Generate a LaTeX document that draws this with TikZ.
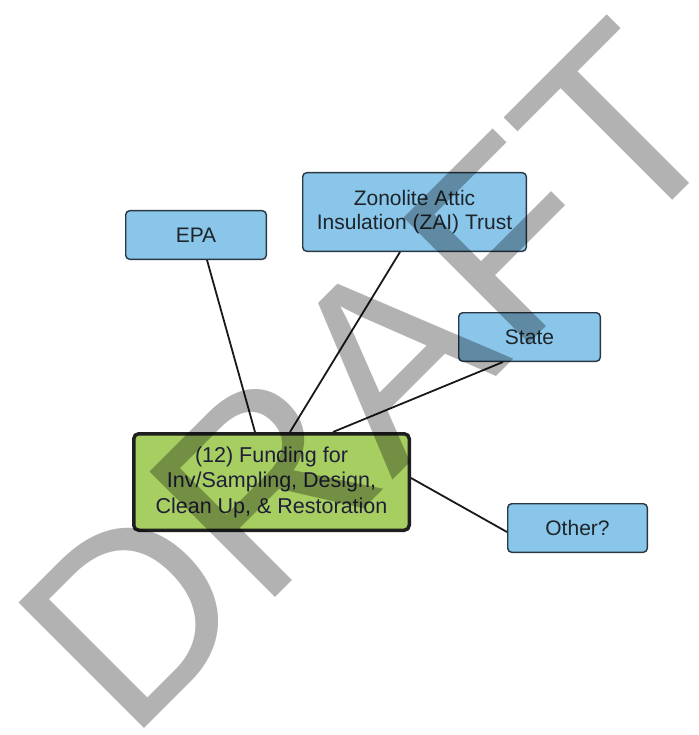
\documentclass[tikz,border=0pt]{standalone}
\usepackage{fontspec}
\setmainfont{Liberation Sans}
\definecolor{boxblue}{RGB}{138,198,234}
\definecolor{boxgreen}{RGB}{166,206,96}
\definecolor{edgeblue}{RGB}{40,55,68}
\definecolor{textdark}{RGB}{30,36,42}
\definecolor{textnavy}{RGB}{32,30,58}
\tikzset{
  bluebox/.style={draw=edgeblue, line width=1.4pt, fill=boxblue, rounded corners=4pt,
    inner sep=0pt, align=center, text=textdark, font=\fontsize{21}{24.5}\selectfont},
  mainbox/.style={draw=black!88, line width=3.5pt, fill=boxgreen, rounded corners=5pt,
    inner sep=0pt, align=center, text=textnavy, minimum width=275.5pt, minimum height=96.5pt,
    font=\fontsize{21.5}{25.5}\selectfont},
  link/.style={line width=1.8pt, draw=black!90},
  watermark/.style={text=black, text opacity=0.3, inner sep=0pt, rotate=45, anchor=base west,
    font=\fontsize{258}{258}\selectfont}
}
\begin{document}
\begin{tikzpicture}[x=1pt, y=-1pt]
\useasboundingbox (0,0) rectangle (698,735);
\clip (0,0) rectangle (698,735);
\node[bluebox, minimum width=140.6pt, minimum height=48.6pt] (epa) at (196,235) {EPA};
\node[bluebox, minimum width=223.6pt, minimum height=78.6pt] (zai) at (414.5,212) {Zonolite Attic\\Insulation (ZAI) Trust};
\node[bluebox, minimum width=141.6pt, minimum height=48.6pt] (state) at (529.5,337) {State};
\node[bluebox, minimum width=139.6pt, minimum height=48.6pt] (other) at (577.5,528) {Other?};
\node[mainbox] (main) at (271.5,482) {(12) Funding for\\Inv/Sampling, Design,\\Clean Up, \& Restoration};
\draw[link] ([xshift=11pt]epa.south) -- ([xshift=-16.5pt]main.north);
\draw[link] ([xshift=-14.5pt]zai.south) -- ([xshift=18.5pt]main.north);
\draw[link] ([xshift=-26.5pt]state.south) -- ([xshift=61.5pt]main.north);
\draw[link] ([yshift=4pt]main.east) -- ([yshift=-4pt]other.west);
\node[watermark] (draft) at (129,744) {DRAFT};
\end{tikzpicture}
\end{document}
